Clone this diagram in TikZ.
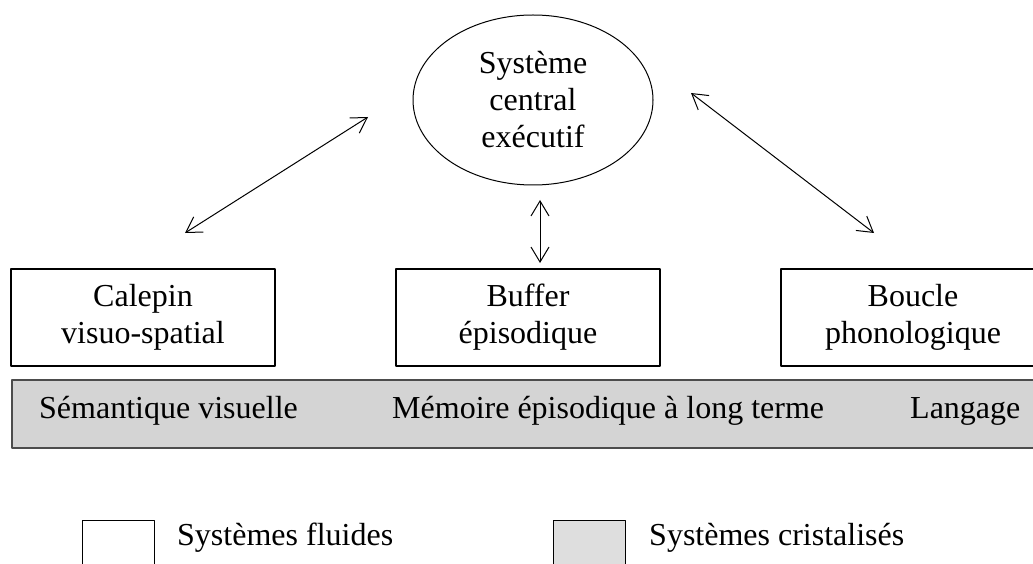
\documentclass[tikz,border=0pt]{standalone}
\usepackage{fontspec}
\setmainfont{Liberation Serif}
\usetikzlibrary{arrows.meta,shapes.geometric}
\begin{document}
\begin{tikzpicture}[x=1pt,y=-1pt,line cap=round,line join=round,
	>={Straight Barb[length=15pt,width=18pt]},
	every node/.style={font=\fontsize{32}{37}\selectfont,inner sep=0pt},
	modbox/.style={draw,line width=1.2pt,minimum width=264pt,minimum height=97pt,align=center},
	legbox/.style={draw,line width=1.2pt,minimum width=72pt,minimum height=90pt,anchor=north west},
	lien/.style={<->,line width=1pt}]
	\clip (0,0) rectangle (1033,564);
	% systeme central
	\node[draw,ellipse,line width=1pt,minimum width=240pt,minimum height=170pt,align=center] (sce) at (533,100) {Système\\central\\exécutif};
	% les trois modules
	\node[modbox] (cal) at (143,317.5) {Calepin\\visuo-spatial};
	\node[modbox] (buf) at (528,317.5) {Buffer\\épisodique};
	\node[modbox] (bou) at (913,317.5) {Boucle\\phonologique};
	% memoire a long terme
	\node[draw=black!70,fill=black!17,line width=1.6pt,minimum width=1040pt,minimum height=68pt,anchor=north west] (mlt) at (11,379) {};
	\node[anchor=base west] (semv) at (39,418) {Sémantique visuelle};
	\node[anchor=base west] (melt) at (392,418) {Mémoire épisodique à long terme};
	\node[anchor=base west] (lang) at (910,418) {Langage};
	% fleches
	\coordinate (c1) at (185,233); \coordinate (c2) at (368,117);
	\coordinate (b1) at (540,200); \coordinate (b2) at (540,263);
	\coordinate (p1) at (691,93); \coordinate (p2) at (874,233);
	\draw[lien] (c1) -- (c2);
	\draw[lien] (b1) -- (b2);
	\draw[lien] (p1) -- (p2);
	% legende
	\node[legbox] (lfl) at (82,520) {};
	\node[anchor=base west] (tfl) at (177,545) {Systèmes fluides};
	\node[legbox,fill=black!13] (lcr) at (553,520) {};
	\node[anchor=base west] (tcr) at (649,545) {Systèmes cristalisés};
\end{tikzpicture}
\end{document}
